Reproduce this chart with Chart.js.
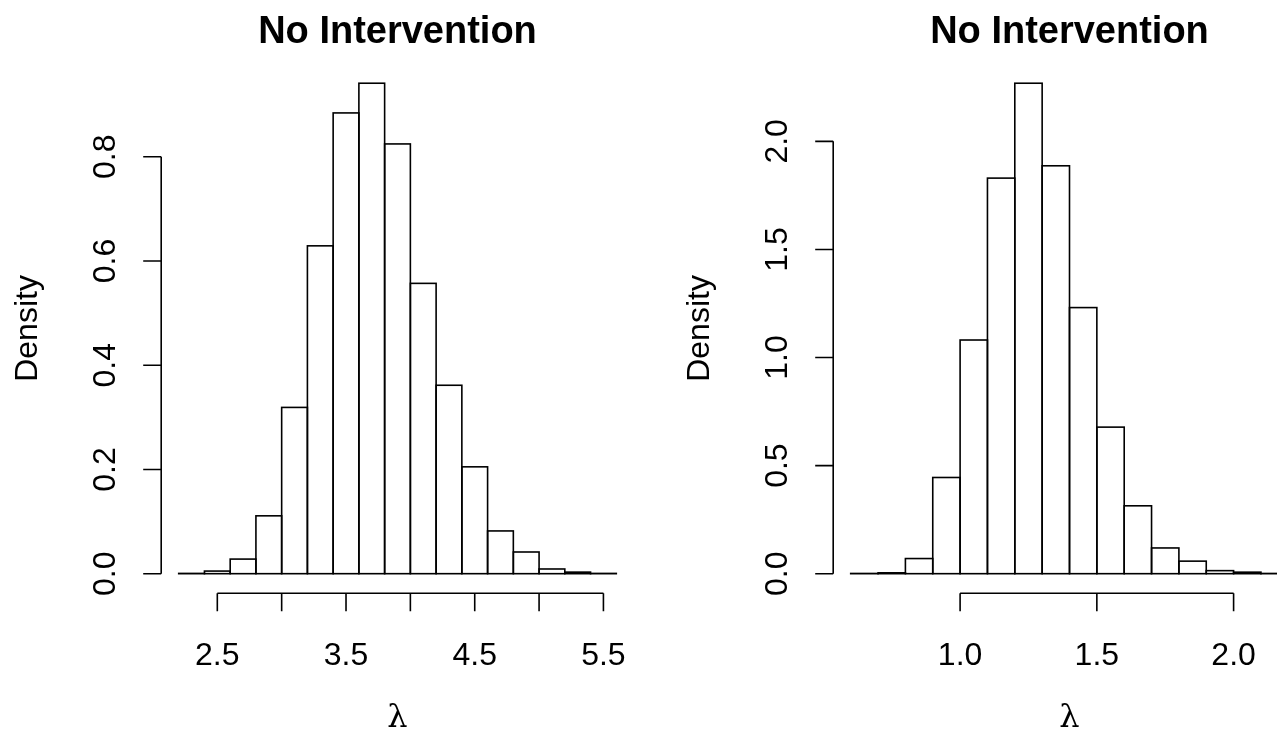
<!DOCTYPE html>
<html>
<head>
<meta charset="utf-8">
<script src="https://cdn.jsdelivr.net/npm/chart.js@4"></script>
<style>
  html, body { margin: 0; padding: 0; overflow: hidden; background: #fff; width: 1277px; height: 752px; }
  canvas { position: absolute; top: 0; }
  #leftChart { left: 0; }
  #rightChart { left: 672px; }
</style>
</head>
<body>
<canvas id="leftChart" width="672" height="752"></canvas>
<canvas id="rightChart" width="672" height="752"></canvas>
<script>
// left panel: bins of 0.2 starting at 2.2
const leftBinStart = 2.2;
const leftBinWidth = 0.2;
const leftDensity = [0.0005, 0.005, 0.028, 0.111, 0.319, 0.629, 0.884, 0.941, 0.8245,
  0.557, 0.3615, 0.205, 0.082, 0.0416, 0.009, 0.003, 0.0005];
const leftXTicks = [2.5, 3.0, 3.5, 4.0, 4.5, 5.0, 5.5];
const leftXLabels = ['2.5', '', '3.5', '', '4.5', '', '5.5'];
const leftYTicks = [0, 0.2, 0.4, 0.6, 0.8];
const leftYLabels = ['0.0', '0.2', '0.4', '0.6', '0.8'];

// right panel: bins of 0.1 starting at 0.6
const rightBinStart = 0.6;
const rightBinWidth = 0.1;
const rightDensity = [0.001, 0.004, 0.07, 0.445, 1.081, 1.83, 2.269, 1.887, 1.231,
  0.678, 0.314, 0.119, 0.058, 0.014, 0.007, 0.001];
const rightXTicks = [1.0, 1.5, 2.0];
const rightXLabels = ['1.0', '1.5', '2.0'];
const rightYTicks = [0, 0.5, 1.0, 1.5, 2.0];
const rightYLabels = ['0.0', '0.5', '1.0', '1.5', '2.0'];

const panelTitle = 'No Intervention';
const xTitle = 'λ';
const yTitle = 'Density';

const baseFont = '32px "Liberation Sans", Arial, Helvetica, sans-serif';
const lineW = 1.6;

// R style axes, outlines and labels
const rStyle = {
  id: 'rStyle',
  afterDatasetsDraw(chart) {
    const ctx = chart.ctx;
    const meta = chart.getDatasetMeta(0);
    ctx.save();
    ctx.strokeStyle = '#000';
    ctx.lineWidth = lineW;
    meta.data.forEach(bar => {
      const p = bar.getProps(['x', 'y', 'base', 'width'], true);
      ctx.strokeRect(p.x - p.width / 2, p.y, p.width, p.base - p.y);
    });
    ctx.restore();
  },
  afterDraw(chart, args, o) {
    const ctx = chart.ctx;
    const area = chart.chartArea;
    const xs = chart.scales.x;
    const ys = chart.scales.y;
    ctx.save();
    ctx.strokeStyle = '#000';
    ctx.fillStyle = '#000';
    ctx.lineWidth = lineW;

    // x axis
    const xa = xs.getPixelForValue(o.xTicks[0]);
    const xb = xs.getPixelForValue(o.xTicks[o.xTicks.length - 1]);
    ctx.beginPath();
    ctx.moveTo(xa, area.bottom);
    ctx.lineTo(xb, area.bottom);
    o.xTicks.forEach(t => {
      const px = xs.getPixelForValue(t);
      ctx.moveTo(px, area.bottom);
      ctx.lineTo(px, area.bottom + 18);
    });
    ctx.stroke();
    ctx.font = baseFont;
    ctx.textAlign = 'center';
    ctx.textBaseline = 'alphabetic';
    o.xTicks.forEach((t, i) => {
      if (o.xLabels[i]) ctx.fillText(o.xLabels[i], xs.getPixelForValue(t), area.bottom + 72);
    });

    // y axis
    const ya = ys.getPixelForValue(o.yTicks[0]);
    const yb = ys.getPixelForValue(o.yTicks[o.yTicks.length - 1]);
    ctx.beginPath();
    ctx.moveTo(area.left, ya);
    ctx.lineTo(area.left, yb);
    o.yTicks.forEach(t => {
      const py = ys.getPixelForValue(t);
      ctx.moveTo(area.left, py);
      ctx.lineTo(area.left - 18, py);
    });
    ctx.stroke();
    o.yTicks.forEach((t, i) => {
      ctx.save();
      ctx.translate(area.left - 46, ys.getPixelForValue(t));
      ctx.rotate(-Math.PI / 2);
      ctx.fillText(o.yLabels[i], 0, 0);
      ctx.restore();
    });

    const midX = (area.left + area.right) / 2;
    const midY = (area.top + area.bottom) / 2;

    // axis titles
    ctx.save();
    ctx.translate(37, midY);
    ctx.rotate(-Math.PI / 2);
    ctx.fillText(yTitle, 0, 0);
    ctx.restore();

    ctx.font = '32px "DejaVu Serif", "Liberation Serif", serif';
    ctx.textBaseline = 'middle';
    ctx.fillText(xTitle, midX, 719);

    // main title
    ctx.font = 'bold 38px "Liberation Sans", Arial, Helvetica, sans-serif';
    ctx.textBaseline = 'alphabetic';
    ctx.fillText(panelTitle, midX, 43);
    ctx.restore();
  }
};

function makeHist(id, binStart, binWidth, density, xTicks, xLabels, yTicks, yLabels) {
  const binEnd = binStart + binWidth * density.length;
  const span = binEnd - binStart;
  const yMax = Math.max(...density);
  const points = density.map((d, i) => ({ x: binStart + (i + 0.5) * binWidth, y: d }));

  const config = {
    type: 'bar',
    data: {
      datasets: [{
        data: points,
        backgroundColor: '#ffffff',
        borderWidth: 0,
        barPercentage: 1,
        categoryPercentage: 1
      }]
    },
    options: {
      responsive: false,
      animation: false,
      layout: { padding: { left: 161.2, right: 38.2, top: 63.6, bottom: 158.7 } },
      scales: {
        x: {
          type: 'linear', display: false, offset: false,
          min: binStart - 0.04 * span, max: binEnd + 0.04 * span
        },
        y: { type: 'linear', display: false, min: -0.04 * yMax, max: 1.04 * yMax }
      },
      plugins: {
        legend: { display: false },
        tooltip: { enabled: false },
        rStyle: { xTicks, xLabels, yTicks, yLabels }
      }
    },
    plugins: [rStyle]
  };
  return new Chart(document.getElementById(id), config);
}

makeHist('leftChart', leftBinStart, leftBinWidth, leftDensity, leftXTicks, leftXLabels, leftYTicks, leftYLabels);
makeHist('rightChart', rightBinStart, rightBinWidth, rightDensity, rightXTicks, rightXLabels, rightYTicks, rightYLabels);
</script>
</body>
</html>
